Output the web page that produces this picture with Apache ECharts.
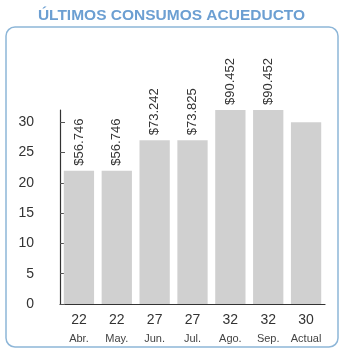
<!DOCTYPE html>
<html>
<head>
<meta charset="utf-8">
<script src="https://cdn.jsdelivr.net/npm/echarts@6/dist/echarts.min.js"></script>
<style>html,body{margin:0;padding:0;background:#fff;}#chart{width:343px;height:351px;}</style>
</head>
<body>
<div id="chart"></div>
<script>
// datos
var months = ['Abr.', 'May.', 'Jun.', 'Jul.', 'Ago.', 'Sep.', 'Actual'];
var consumos = [22, 22, 27, 27, 32, 32, 30];
var valores = ['$56.746', '$56.746', '$73.242', '$73.825', '$90.452', '$90.452', ''];
var yTicks = [0, 5, 10, 15, 20, 25, 30];

var narrow = '"Liberation Sans Narrow", "Liberation Sans", Arial, sans-serif';

var chart = echarts.init(document.getElementById('chart'));
var option = {
    animation: false,
    title: {
        text: 'ÚLTIMOS CONSUMOS ACUEDUCTO',
        left: 'center',
        top: 3,
        textStyle: { color: '#6c9fd2', fontSize: 15.5, fontWeight: 'bold', fontFamily: 'Arial, "Liberation Sans", sans-serif' }
    },
    graphic: [{
        type: 'rect',
        shape: { x: 6, y: 27, width: 332, height: 320, r: 9 },
        style: { fill: 'none', stroke: '#8db6d8', lineWidth: 1.5 }
    }],
    grid: { left: 60, right: 18, top: 110, bottom: 47 },
    xAxis: {
        type: 'category',
        data: months,
        axisLine: { lineStyle: { color: '#333', width: 1.2 } },
        axisTick: { show: false },
        axisLabel: {
            interval: 0,
            margin: 6,
            formatter: function (v, i) {
                return '{v|' + consumos[i] + '}\n{m|' + v + '}';
            },
            rich: {
                v: { fontSize: 14, color: '#333', fontFamily: narrow, lineHeight: 21 },
                m: { fontSize: 11, color: '#444', fontFamily: narrow, lineHeight: 15 }
            }
        }
    },
    yAxis: {
        type: 'value',
        min: 0,
        max: 32,
        interval: 5,
        splitLine: { show: false },
        axisLine: { show: true, lineStyle: { color: '#333', width: 1.2 } },
        axisTick: { show: true, inside: true, length: 5, lineStyle: { color: '#555' } },
        axisLabel: {
            showMaxLabel: false,
            margin: 26,
            color: '#333',
            fontSize: 14,
            fontFamily: narrow,
            formatter: function (v) { return yTicks.indexOf(v) >= 0 ? String(v) : ''; }
        }
    },
    series: [{
        type: 'bar',
        data: consumos,
        barWidth: '80%',
        itemStyle: { color: '#d0d0d0' },
        label: {
            show: true,
            position: 'top',
            rotate: 90,
            align: 'left',
            verticalAlign: 'middle',
            distance: 5,
            fontSize: 13,
            color: '#333',
            fontFamily: narrow,
            formatter: function (p) { return valores[p.dataIndex]; }
        }
    }]
};
chart.setOption(option);
</script>
</body>
</html>
